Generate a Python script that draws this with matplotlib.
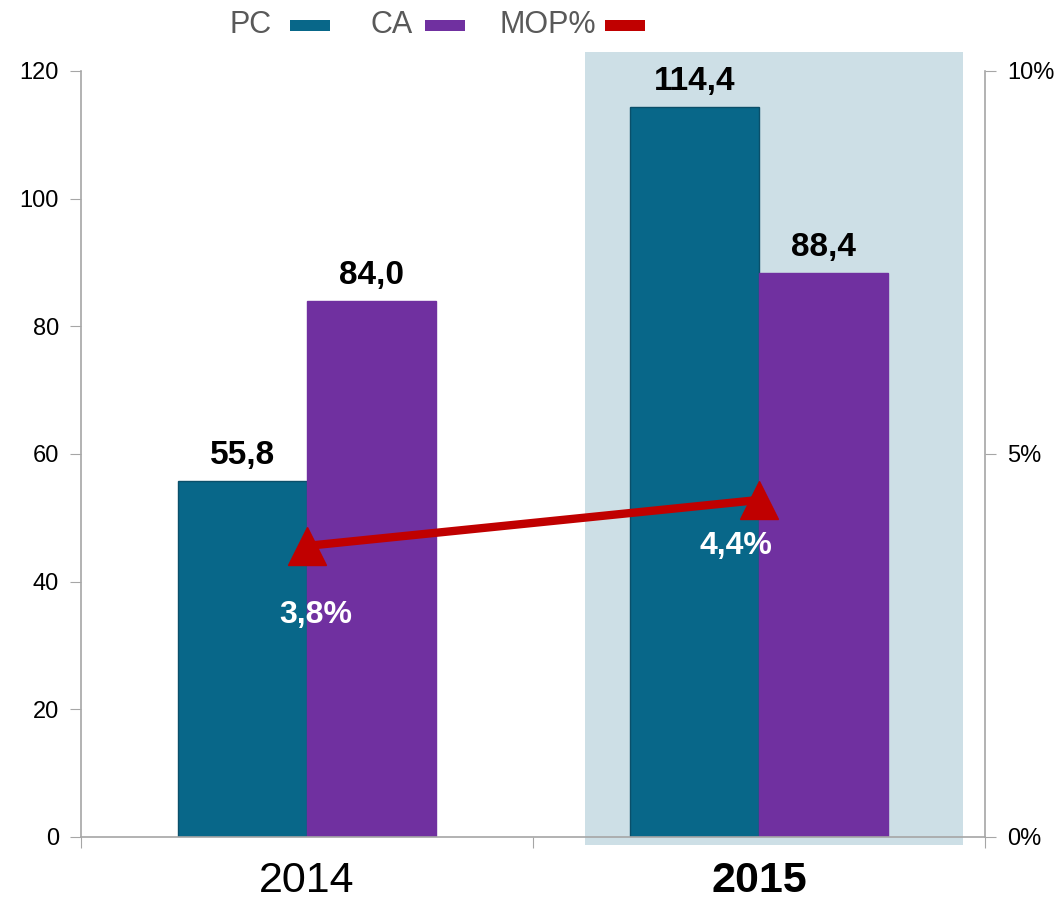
import matplotlib.pyplot as plt
from matplotlib.patches import Rectangle

plt.rcParams['font.family'] = ['Liberation Sans', 'DejaVu Sans']

# data
years = ['2014', '2015']
pc = [55.8, 114.4]
ca = [84.0, 88.4]
mop = [3.8, 4.4]  # percent
pc_labels = ['55,8', '114,4']
ca_labels = ['84,0', '88,4']
mop_labels = ['3,8%', '4,4%']
legend_names = ['PC', 'CA', 'MOP%']

c_pc = '#086789'
c_ca = '#7030A0'
c_mop = '#C00000'
c_hl = '#CDDFE6'
c_axis = '#A6A6A6'

W, H = 1063, 902
fig = plt.figure(figsize=(W / 100, H / 100), dpi=100)
ax = fig.add_axes([0.0762, 0.0721, 0.8504, 0.8492])
ax2 = ax.twinx()

x = [0.5, 1.5]
w = 0.285

# highlight box behind 2015
ax.add_patch(Rectangle((1.115, -1.25), 0.836, 124.25, facecolor=c_hl,
                       edgecolor='none', zorder=0, clip_on=False))

ax.bar([i - w / 2 for i in x], pc, w, color=c_pc, edgecolor='#0A4F6A',
       linewidth=1, zorder=2)
ax.bar([i + w / 2 for i in x], ca, w, color=c_ca, edgecolor=c_ca,
       linewidth=1, zorder=2)

for i in range(2):
    ax.text(x[i] - w / 2, pc[i] + 1.5, pc_labels[i], ha='center', va='bottom',
            fontsize=24, fontweight='bold', zorder=5)
    ax.text(x[i] + w / 2, ca[i] + 1.5, ca_labels[i], ha='center', va='bottom',
            fontsize=24, fontweight='bold', zorder=5)

ax.set_xlim(0, 2)
ax.set_ylim(0, 120)
ax.set_yticks(range(0, 121, 20))
ax.set_xticks([0, 1, 2])
ax.set_xticklabels([])
ax.tick_params(axis='y', labelsize=17, length=8, color=c_axis, pad=8)
ax.tick_params(axis='x', length=8, color=c_axis)
for s in ['top', 'right']:
    ax.spines[s].set_visible(False)
for s in ['left', 'bottom']:
    ax.spines[s].set_color(c_axis)
    ax.spines[s].set_linewidth(1.2)

# year labels
ax.text(x[0], -3.8, years[0], ha='center', va='top', fontsize=31)
ax.text(x[1], -3.8, years[1], ha='center', va='top', fontsize=31,
        fontweight='bold')

# margin line on right axis
ax2.plot(x, mop, color=c_mop, linewidth=6, marker='^', markersize=27,
         solid_capstyle='round', zorder=4)
ax2.set_ylim(0, 10)
ax2.set_yticks([0, 5, 10])
ax2.set_yticklabels(['0%', '5%', '10%'])
ax2.tick_params(axis='y', labelsize=17, length=8, color=c_axis, pad=8)
for s in ['top', 'left', 'bottom']:
    ax2.spines[s].set_visible(False)
ax2.spines['right'].set_color(c_axis)
ax2.spines['right'].set_linewidth(1.2)

ax2.text(x[0] + 0.02, mop[0] - 0.9, mop_labels[0], ha='center', va='center',
         color='white', fontsize=23, fontweight='bold')
ax2.text(x[1] - 0.05, mop[1] - 0.6, mop_labels[1], ha='center', va='center',
         color='white', fontsize=23, fontweight='bold')

# legend drawn by hand: text then swatch, in pixel positions
leg_text_x = [230, 370, 500]
leg_patch_x = [290, 425, 605]
leg_colors = [c_pc, c_ca, c_mop]
for name, tx, px, col in zip(legend_names, leg_text_x, leg_patch_x, leg_colors):
    fig.text(tx / W, 1 - 25 / H, name, ha='left', va='center', fontsize=22,
             color='#595959')
    fig.patches.append(Rectangle((px / W, 1 - 31 / H), 40 / W, 11 / H,
                                 facecolor=col, edgecolor='none',
                                 transform=fig.transFigure, figure=fig))

fig.savefig('out.png', dpi=100)
